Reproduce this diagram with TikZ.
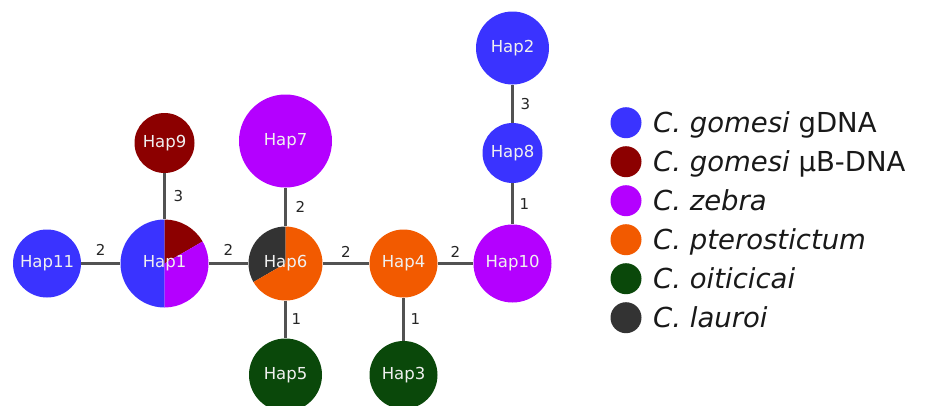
\documentclass[tikz,border=0pt]{standalone}
\usepackage{fontspec}
\setmainfont{DejaVu Sans}
\definecolor{cblue}{RGB}{58,51,255}
\definecolor{cred}{RGB}{140,0,0}
\definecolor{cpurple}{RGB}{180,0,255}
\definecolor{corange}{RGB}{242,90,0}
\definecolor{cgreen}{RGB}{10,72,10}
\definecolor{cgray}{RGB}{51,51,51}
\definecolor{ctext}{RGB}{240,240,240}
\begin{document}
\begin{tikzpicture}[x=1pt,y=-1pt,
  hap/.style={circle,inner sep=0pt,text=ctext,font=\fontsize{16.5}{16.5}\selectfont},
  edge/.style={line width=2.2pt,draw=black!68},
  elab/.style={font=\fontsize{15}{15}\selectfont,inner sep=1pt,text=black!85},
  legdot/.style={circle,inner sep=0pt,minimum size=31pt},
  legtext/.style={anchor=base west,inner sep=0pt,font=\fontsize{27.5}{27.5}\selectfont,text=black!90}]
\useasboundingbox (0,0) rectangle (930,405);
\clip (0,0) rectangle (930,405);
\fill[white] (0,0) rectangle (930,405);
% pies
\coordinate (c1) at (164.5,263.5);
\coordinate (c6) at (285.5,263.5);
\fill[cblue] (c1) -- ++(90:44pt) arc[start angle=90,end angle=270,radius=44pt] -- cycle;
\fill[cred] (c1) -- ++(90:44pt) arc[start angle=90,end angle=30,radius=44pt] -- cycle;
\fill[cpurple] (c1) -- ++(30:44pt) arc[start angle=30,end angle=-90,radius=44pt] -- cycle;
\fill[cgray] (c6) -- ++(90:37pt) arc[start angle=90,end angle=210,radius=37pt] -- cycle;
\fill[corange] (c6) -- ++(210:37pt) arc[start angle=210,end angle=450,radius=37pt] -- cycle;
% nodes
\node[hap,fill=cblue,minimum size=68pt] (h11) at (47,263.5) {Hap11};
\node[hap,minimum size=88pt] (h1) at (c1) {Hap1};
\node[hap,fill=cred,minimum size=60pt] (h9) at (164.5,143) {Hap9};
\node[hap,minimum size=74pt] (h6) at (c6) {Hap6};
\node[hap,fill=cpurple,minimum size=93pt] (h7) at (285.5,141) {Hap7};
\node[hap,fill=cgreen,minimum size=73pt] (h5) at (285.5,375) {Hap5};
\node[hap,fill=corange,minimum size=68pt] (h4) at (403.5,263.5) {Hap4};
\node[hap,fill=cgreen,minimum size=68pt] (h3) at (403.5,375) {Hap3};
\node[hap,fill=cpurple,minimum size=78pt] (h10) at (512.5,263.5) {Hap10};
\node[hap,fill=cblue,minimum size=60pt] (h8) at (512.5,153) {Hap8};
\node[hap,fill=cblue,minimum size=73pt] (h2) at (512.5,48) {Hap2};
% edges
\draw[edge] (h11) -- node[elab,above=6pt] (e1) {2} (h1);
\draw[edge] (h1) -- node[elab,above=6pt] (e2) {2} (h6);
\draw[edge] (h6) -- node[elab,above=4pt] (e3) {2} (h4);
\draw[edge] (h4) -- node[elab,above=4pt] (e4) {2} (h10);
\draw[edge] (h9) -- node[elab,right=7pt] (e5) {3} (h1);
\draw[edge] (h7) -- node[elab,right=8pt] (e6) {2} (h6);
\draw[edge] (h6) -- node[elab,right=4pt] (e7) {1} (h5);
\draw[edge] (h4) -- node[elab,right=5pt] (e8) {1} (h3);
\draw[edge] (h8) -- node[elab,right=5pt] (e9) {1} (h10);
\draw[edge] (h2) -- node[elab,right=6pt] (e10) {3} (h8);
% legend
\node[legdot,fill=cblue] (l1) at (626,122.7) {};
\node[legdot,fill=cred] (l2) at (626,161.7) {};
\node[legdot,fill=cpurple] (l3) at (626,200.7) {};
\node[legdot,fill=corange] (l4) at (626,239.7) {};
\node[legdot,fill=cgreen] (l5) at (626,278.7) {};
\node[legdot,fill=cgray] (l6) at (626,317.7) {};
\node[legtext] (t1) at (653,132.7) {\textit{C. gomesi} gDNA};
\node[legtext] (t2) at (653,171.7) {\textit{C. gomesi} μB-DNA};
\node[legtext] (t3) at (653,210.7) {\textit{C. zebra}};
\node[legtext] (t4) at (653,249.7) {\textit{C. pterostictum}};
\node[legtext] (t5) at (653,288.7) {\textit{C. oiticicai}};
\node[legtext] (t6) at (653,327.7) {\textit{C. lauroi}};
\end{tikzpicture}
\end{document}
